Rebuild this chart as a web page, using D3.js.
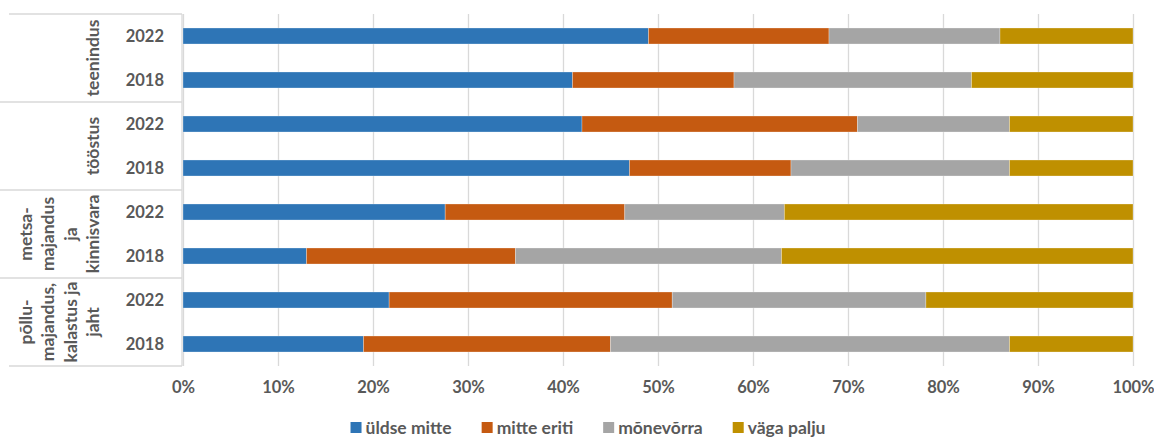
<!DOCTYPE html>
<html>
<head>
<meta charset="utf-8">
<script src="https://cdn.jsdelivr.net/npm/d3@7"></script>
<style>
  body { margin: 0; background: #fff; }
  text { font-family: Lato, "Open Sans", sans-serif; font-weight: bold; fill: #595959; }
</style>
</head>
<body>
<div class="chart"></div>
<script>
// data (rows top to bottom)
var groupLines = [
  ["teenindus"],
  ["tööstus"],
  ["metsa-", "majandus", "ja", "kinnisvara"],
  ["põllu-", "majandus,", "kalastus ja", "jaht"]
];
var years = ["2022", "2018"];
var seriesNames = ["üldse mitte", "mitte eriti", "mõnevõrra", "väga palju"];
var uldseMitte = [49, 41, 42, 47, 27.6, 13, 21.7, 19];
var mitteEriti = [19, 17, 29, 17, 18.9, 22, 29.8, 26];
var monevorra  = [18, 25, 16, 23, 16.8, 28, 26.7, 42];
var vagaPalju  = [14, 17, 13, 13, 36.7, 37, 21.8, 13];
var xTicks = [0, 10, 20, 30, 40, 50, 60, 70, 80, 90, 100];

var colors = ["#2E75B6", "#C55A11", "#A5A5A5", "#BF9000"];

var svgWidth = 1154;
var svgHeight = 437;
var plot = { left: 183, right: 1133, top: 14, bottom: 366 };

var svg = d3.select(".chart")
  .append("svg")
  .attr("width", svgWidth)
  .attr("height", svgHeight);

// rows as table for the stack
var rows = [];
groupLines.forEach(function (g, gi) {
  years.forEach(function (y, yi) {
    var i = gi * years.length + yi;
    rows.push({
      id: i, group: gi, year: y,
      "üldse mitte": uldseMitte[i],
      "mitte eriti": mitteEriti[i],
      "mõnevõrra": monevorra[i],
      "väga palju": vagaPalju[i]
    });
  });
});

var xScale = d3.scaleLinear()
  .domain([0, 100])
  .range([plot.left, plot.right]);

var yScale = d3.scaleBand()
  .domain(rows.map(d => d.id))
  .range([plot.top, plot.bottom])
  .paddingInner(0.636)
  .paddingOuter(0.318);

var colorScale = d3.scaleOrdinal()
  .domain(seriesNames)
  .range(colors);

// gridlines + tick labels
var xAxis = svg.append("g")
  .attr("transform", `translate(0, ${plot.bottom})`)
  .call(d3.axisBottom(xScale)
    .tickValues(xTicks)
    .tickSize(-(plot.bottom - plot.top))
    .tickPadding(15)
    .tickFormat(d => d + "%"));
xAxis.select(".domain").remove();
xAxis.selectAll(".tick line").attr("stroke", "#d9d9d9").attr("stroke-width", 1.3);
xAxis.selectAll(".tick text").attr("font-size", 16.5).style("fill", "#595959");

// stacked bars
var stacked = d3.stack().keys(seriesNames)(rows);

svg.append("g")
  .selectAll("g")
  .data(stacked)
  .enter()
  .append("g")
  .attr("fill", d => colorScale(d.key))
  .selectAll("rect")
  .data(d => d)
  .enter()
  .append("rect")
  .attr("x", d => xScale(d[0]))
  .attr("y", d => yScale(d.data.id))
  .attr("width", d => xScale(d[1]) - xScale(d[0]))
  .attr("height", yScale.bandwidth())
  .attr("stroke", "#fff")
  .attr("stroke-opacity", 0.35)
  .attr("stroke-width", 0.8);

// category table lines
var groupStep = (plot.bottom - plot.top) / groupLines.length;
var tableLines = svg.append("g").attr("stroke", "#d9d9d9").attr("stroke-width", 1.3);
d3.range(groupLines.length + 1).forEach(function (k) {
  var y = plot.top + k * groupStep;
  var edge = (k === 0 || k === groupLines.length);
  tableLines.append("line")
    .attr("x1", edge ? 9 : 0)
    .attr("x2", plot.left - 1)
    .attr("y1", y).attr("y2", y);
});
tableLines.append("line")
  .attr("x1", plot.left - 1).attr("x2", plot.left - 1)
  .attr("y1", plot.top).attr("y2", plot.bottom);

// year labels
svg.append("g")
  .selectAll("text")
  .data(rows)
  .enter()
  .append("text")
  .attr("x", 164)
  .attr("y", d => yScale(d.id) + yScale.bandwidth() / 2)
  .attr("dy", "0.36em")
  .attr("text-anchor", "end")
  .attr("font-size", 16.5)
  .text(d => d.year);

// group labels, rotated
groupLines.forEach(function (lines, gi) {
  var cy = plot.top + (gi + 0.5) * groupStep;
  var n = lines.length;
  lines.forEach(function (line, li) {
    var bx = 99 - 22.5 * (n - 1 - li);
    svg.append("text")
      .attr("transform", `translate(${bx}, ${cy}) rotate(-90)`)
      .attr("text-anchor", "middle")
      .attr("font-size", 17.5)
      .text(line);
  });
});

// legend
var legend = svg.append("g").attr("transform", "translate(0, 428)");
var items = legend.selectAll("g")
  .data(seriesNames)
  .enter()
  .append("g");
items.append("rect")
  .attr("width", 11).attr("height", 11)
  .attr("y", -6)
  .attr("fill", d => colorScale(d));
items.append("text")
  .attr("x", 15)
  .attr("dy", "0.35em")
  .attr("font-size", 17.5)
  .text(d => d);

var gap = 30;
var pos = 0;
var offsets = [];
items.each(function () {
  offsets.push(pos);
  pos += 15 + d3.select(this).select("text").node().getComputedTextLength() + gap;
});
var total = pos - gap;
var startX = 588 - total / 2;
items.attr("transform", (d, i) => `translate(${startX + offsets[i]}, 0)`);
</script>
</body>
</html>
